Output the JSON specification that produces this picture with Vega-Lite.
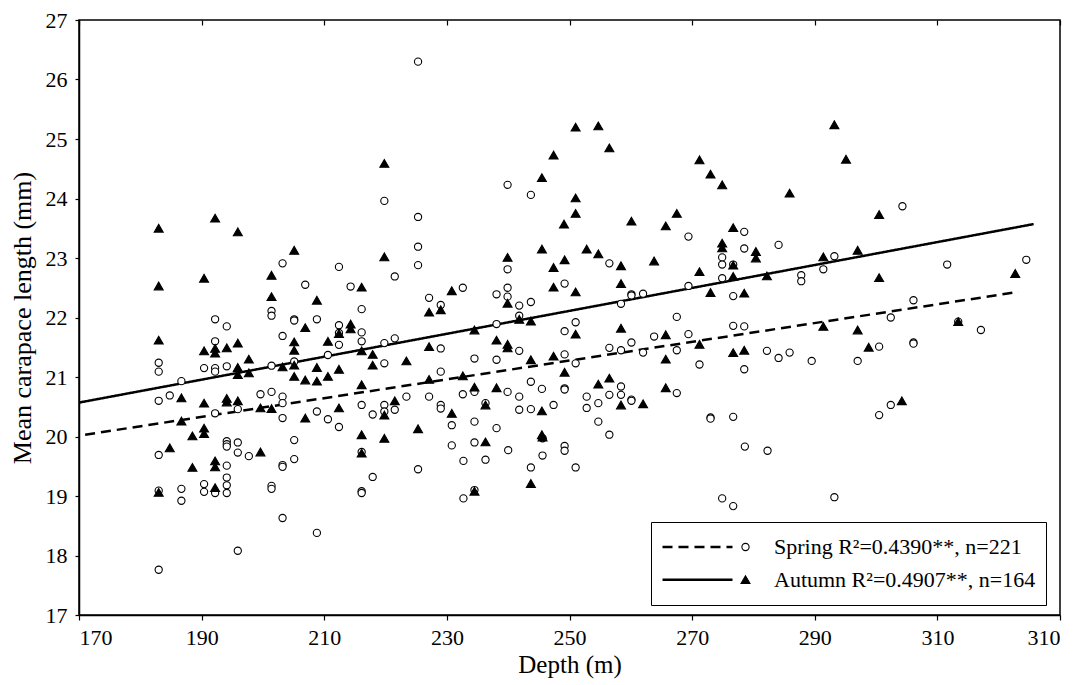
{
  "$schema": "https://vega.github.io/schema/vega-lite/v6.json",
  "width": 981,
  "height": 595,
  "autosize": {"type": "none"},
  "padding": {"left": 79, "top": 20, "right": 15, "bottom": 70},
  "background": "white",
  "config": {
    "font": "Liberation Serif",
    "view": {"stroke": "black", "strokeWidth": 1.5},
    "axis": {
      "grid": false,
      "domainColor": "black",
      "domainWidth": 1.5,
      "tickColor": "black",
      "tickWidth": 1.2,
      "tickSize": 5,
      "labelFont": "Liberation Serif",
      "labelFontSize": 22,
      "labelColor": "black",
      "titleFont": "Liberation Serif",
      "titleFontSize": 25,
      "titleFontWeight": "normal",
      "titleColor": "black"
    },
    "legend": {
      "labelFont": "Liberation Serif",
      "labelFontSize": 22,
      "labelColor": "black",
      "labelLimit": 0
    }
  },
  "datasets": {
    "samples": [
      {"season": "Spring", "depth": 225.3, "length": 26.30},
      {"season": "Spring", "depth": 219.8, "length": 23.96},
      {"season": "Spring", "depth": 225.3, "length": 23.69},
      {"season": "Spring", "depth": 239.9, "length": 24.23},
      {"season": "Spring", "depth": 243.7, "length": 24.06},
      {"season": "Spring", "depth": 304.3, "length": 23.87},
      {"season": "Spring", "depth": 278.5, "length": 23.44},
      {"season": "Spring", "depth": 203.2, "length": 22.91},
      {"season": "Spring", "depth": 212.4, "length": 22.85},
      {"season": "Spring", "depth": 221.5, "length": 22.69},
      {"season": "Spring", "depth": 206.9, "length": 22.55},
      {"season": "Spring", "depth": 214.3, "length": 22.52},
      {"season": "Spring", "depth": 225.3, "length": 23.19},
      {"season": "Spring", "depth": 225.3, "length": 22.88},
      {"season": "Spring", "depth": 216.1, "length": 22.14},
      {"season": "Spring", "depth": 201.4, "length": 22.11},
      {"season": "Spring", "depth": 201.4, "length": 22.03},
      {"season": "Spring", "depth": 205.1, "length": 21.97},
      {"season": "Spring", "depth": 205.1, "length": 21.95},
      {"season": "Spring", "depth": 208.8, "length": 21.97},
      {"season": "Spring", "depth": 192.2, "length": 21.97},
      {"season": "Spring", "depth": 194.1, "length": 21.85},
      {"season": "Spring", "depth": 212.4, "length": 21.87},
      {"season": "Spring", "depth": 212.4, "length": 21.74},
      {"season": "Spring", "depth": 203.2, "length": 21.69},
      {"season": "Spring", "depth": 216.1, "length": 21.75},
      {"season": "Spring", "depth": 216.1, "length": 21.60},
      {"season": "Spring", "depth": 219.8, "length": 21.57},
      {"season": "Spring", "depth": 221.5, "length": 21.65},
      {"season": "Spring", "depth": 192.2, "length": 21.60},
      {"season": "Spring", "depth": 212.4, "length": 21.54},
      {"season": "Spring", "depth": 210.6, "length": 21.37},
      {"season": "Spring", "depth": 183.0, "length": 21.24},
      {"season": "Spring", "depth": 183.0, "length": 21.09},
      {"season": "Spring", "depth": 190.4, "length": 21.15},
      {"season": "Spring", "depth": 192.2, "length": 21.15},
      {"season": "Spring", "depth": 192.2, "length": 21.09},
      {"season": "Spring", "depth": 194.1, "length": 21.18},
      {"season": "Spring", "depth": 201.4, "length": 21.19},
      {"season": "Spring", "depth": 205.1, "length": 21.26},
      {"season": "Spring", "depth": 219.8, "length": 21.23},
      {"season": "Spring", "depth": 186.7, "length": 20.93},
      {"season": "Spring", "depth": 183.0, "length": 20.60},
      {"season": "Spring", "depth": 184.8, "length": 20.69},
      {"season": "Spring", "depth": 199.6, "length": 20.71},
      {"season": "Spring", "depth": 201.4, "length": 20.75},
      {"season": "Spring", "depth": 203.2, "length": 20.67},
      {"season": "Spring", "depth": 203.2, "length": 20.56},
      {"season": "Spring", "depth": 216.1, "length": 20.53},
      {"season": "Spring", "depth": 219.8, "length": 20.53},
      {"season": "Spring", "depth": 219.8, "length": 20.42},
      {"season": "Spring", "depth": 223.4, "length": 20.67},
      {"season": "Spring", "depth": 221.5, "length": 20.45},
      {"season": "Spring", "depth": 217.9, "length": 20.37},
      {"season": "Spring", "depth": 192.2, "length": 20.39},
      {"season": "Spring", "depth": 195.9, "length": 20.46},
      {"season": "Spring", "depth": 203.2, "length": 20.31},
      {"season": "Spring", "depth": 208.8, "length": 20.42},
      {"season": "Spring", "depth": 210.6, "length": 20.29},
      {"season": "Spring", "depth": 212.4, "length": 20.16},
      {"season": "Spring", "depth": 194.1, "length": 19.92},
      {"season": "Spring", "depth": 194.1, "length": 19.87},
      {"season": "Spring", "depth": 194.1, "length": 19.83},
      {"season": "Spring", "depth": 195.9, "length": 19.90},
      {"season": "Spring", "depth": 195.9, "length": 19.73},
      {"season": "Spring", "depth": 197.7, "length": 19.67},
      {"season": "Spring", "depth": 205.1, "length": 19.94},
      {"season": "Spring", "depth": 205.1, "length": 19.62},
      {"season": "Spring", "depth": 203.2, "length": 19.52},
      {"season": "Spring", "depth": 203.2, "length": 19.49},
      {"season": "Spring", "depth": 183.0, "length": 19.69},
      {"season": "Spring", "depth": 194.1, "length": 19.51},
      {"season": "Spring", "depth": 194.1, "length": 19.31},
      {"season": "Spring", "depth": 194.1, "length": 19.18},
      {"season": "Spring", "depth": 194.1, "length": 19.05},
      {"season": "Spring", "depth": 190.4, "length": 19.20},
      {"season": "Spring", "depth": 190.4, "length": 19.07},
      {"season": "Spring", "depth": 192.2, "length": 19.05},
      {"season": "Spring", "depth": 186.7, "length": 19.12},
      {"season": "Spring", "depth": 186.7, "length": 18.92},
      {"season": "Spring", "depth": 183.0, "length": 19.09},
      {"season": "Spring", "depth": 201.4, "length": 19.17},
      {"season": "Spring", "depth": 201.4, "length": 19.12},
      {"season": "Spring", "depth": 216.1, "length": 19.74},
      {"season": "Spring", "depth": 216.1, "length": 19.08},
      {"season": "Spring", "depth": 216.1, "length": 19.05},
      {"season": "Spring", "depth": 217.9, "length": 19.32},
      {"season": "Spring", "depth": 225.3, "length": 19.45},
      {"season": "Spring", "depth": 203.2, "length": 18.63},
      {"season": "Spring", "depth": 208.8, "length": 18.38},
      {"season": "Spring", "depth": 195.9, "length": 18.08},
      {"season": "Spring", "depth": 183.0, "length": 17.76},
      {"season": "Spring", "depth": 269.4, "length": 23.36},
      {"season": "Spring", "depth": 256.5, "length": 22.91},
      {"season": "Spring", "depth": 274.9, "length": 23.01},
      {"season": "Spring", "depth": 274.9, "length": 22.89},
      {"season": "Spring", "depth": 276.7, "length": 22.89},
      {"season": "Spring", "depth": 239.9, "length": 22.81},
      {"season": "Spring", "depth": 232.6, "length": 22.50},
      {"season": "Spring", "depth": 239.9, "length": 22.50},
      {"season": "Spring", "depth": 239.9, "length": 22.35},
      {"season": "Spring", "depth": 238.1, "length": 22.39},
      {"season": "Spring", "depth": 227.1, "length": 22.33},
      {"season": "Spring", "depth": 229.0, "length": 22.21},
      {"season": "Spring", "depth": 241.8, "length": 22.20},
      {"season": "Spring", "depth": 243.7, "length": 22.26},
      {"season": "Spring", "depth": 249.2, "length": 22.57},
      {"season": "Spring", "depth": 260.1, "length": 22.39},
      {"season": "Spring", "depth": 260.1, "length": 22.37},
      {"season": "Spring", "depth": 262.0, "length": 22.40},
      {"season": "Spring", "depth": 269.4, "length": 22.53},
      {"season": "Spring", "depth": 274.9, "length": 22.66},
      {"season": "Spring", "depth": 276.7, "length": 22.36},
      {"season": "Spring", "depth": 258.4, "length": 22.23},
      {"season": "Spring", "depth": 241.8, "length": 22.03},
      {"season": "Spring", "depth": 251.0, "length": 21.92},
      {"season": "Spring", "depth": 238.1, "length": 21.89},
      {"season": "Spring", "depth": 249.2, "length": 21.77},
      {"season": "Spring", "depth": 267.5, "length": 22.01},
      {"season": "Spring", "depth": 263.8, "length": 21.68},
      {"season": "Spring", "depth": 269.4, "length": 21.72},
      {"season": "Spring", "depth": 276.7, "length": 21.86},
      {"season": "Spring", "depth": 260.1, "length": 21.58},
      {"season": "Spring", "depth": 256.5, "length": 21.49},
      {"season": "Spring", "depth": 258.4, "length": 21.45},
      {"season": "Spring", "depth": 262.0, "length": 21.41},
      {"season": "Spring", "depth": 267.5, "length": 21.45},
      {"season": "Spring", "depth": 271.2, "length": 21.21},
      {"season": "Spring", "depth": 229.0, "length": 21.48},
      {"season": "Spring", "depth": 241.8, "length": 21.44},
      {"season": "Spring", "depth": 249.2, "length": 21.38},
      {"season": "Spring", "depth": 251.0, "length": 21.23},
      {"season": "Spring", "depth": 234.5, "length": 21.31},
      {"season": "Spring", "depth": 238.1, "length": 21.29},
      {"season": "Spring", "depth": 229.0, "length": 21.09},
      {"season": "Spring", "depth": 243.7, "length": 20.92},
      {"season": "Spring", "depth": 245.5, "length": 20.80},
      {"season": "Spring", "depth": 249.2, "length": 20.81},
      {"season": "Spring", "depth": 249.2, "length": 20.79},
      {"season": "Spring", "depth": 234.5, "length": 20.75},
      {"season": "Spring", "depth": 239.9, "length": 20.75},
      {"season": "Spring", "depth": 227.1, "length": 20.67},
      {"season": "Spring", "depth": 232.6, "length": 20.71},
      {"season": "Spring", "depth": 241.8, "length": 20.67},
      {"season": "Spring", "depth": 229.0, "length": 20.53},
      {"season": "Spring", "depth": 229.0, "length": 20.47},
      {"season": "Spring", "depth": 236.3, "length": 20.56},
      {"season": "Spring", "depth": 241.8, "length": 20.45},
      {"season": "Spring", "depth": 243.7, "length": 20.46},
      {"season": "Spring", "depth": 247.4, "length": 20.53},
      {"season": "Spring", "depth": 252.8, "length": 20.67},
      {"season": "Spring", "depth": 252.8, "length": 20.48},
      {"season": "Spring", "depth": 254.7, "length": 20.56},
      {"season": "Spring", "depth": 256.5, "length": 20.70},
      {"season": "Spring", "depth": 258.4, "length": 20.84},
      {"season": "Spring", "depth": 258.4, "length": 20.70},
      {"season": "Spring", "depth": 260.1, "length": 20.62},
      {"season": "Spring", "depth": 260.1, "length": 20.60},
      {"season": "Spring", "depth": 267.5, "length": 20.73},
      {"season": "Spring", "depth": 230.8, "length": 20.19},
      {"season": "Spring", "depth": 234.5, "length": 20.25},
      {"season": "Spring", "depth": 238.1, "length": 20.14},
      {"season": "Spring", "depth": 254.7, "length": 20.25},
      {"season": "Spring", "depth": 256.5, "length": 20.03},
      {"season": "Spring", "depth": 273.0, "length": 20.32},
      {"season": "Spring", "depth": 273.0, "length": 20.30},
      {"season": "Spring", "depth": 276.7, "length": 20.33},
      {"season": "Spring", "depth": 230.8, "length": 19.85},
      {"season": "Spring", "depth": 234.5, "length": 19.90},
      {"season": "Spring", "depth": 232.7, "length": 19.59},
      {"season": "Spring", "depth": 236.3, "length": 19.61},
      {"season": "Spring", "depth": 240.0, "length": 19.77},
      {"season": "Spring", "depth": 245.6, "length": 19.97},
      {"season": "Spring", "depth": 245.6, "length": 19.68},
      {"season": "Spring", "depth": 243.7, "length": 19.48},
      {"season": "Spring", "depth": 249.2, "length": 19.84},
      {"season": "Spring", "depth": 249.2, "length": 19.76},
      {"season": "Spring", "depth": 251.0, "length": 19.48},
      {"season": "Spring", "depth": 234.5, "length": 19.10},
      {"season": "Spring", "depth": 232.7, "length": 18.96},
      {"season": "Spring", "depth": 274.9, "length": 18.96},
      {"season": "Spring", "depth": 276.7, "length": 18.83},
      {"season": "Spring", "depth": 278.5, "length": 23.16},
      {"season": "Spring", "depth": 284.1, "length": 23.22},
      {"season": "Spring", "depth": 293.2, "length": 23.03},
      {"season": "Spring", "depth": 287.8, "length": 22.71},
      {"season": "Spring", "depth": 287.8, "length": 22.61},
      {"season": "Spring", "depth": 291.4, "length": 22.81},
      {"season": "Spring", "depth": 311.6, "length": 22.89},
      {"season": "Spring", "depth": 324.5, "length": 22.97},
      {"season": "Spring", "depth": 306.1, "length": 22.29},
      {"season": "Spring", "depth": 302.4, "length": 22.00},
      {"season": "Spring", "depth": 278.5, "length": 21.85},
      {"season": "Spring", "depth": 313.4, "length": 21.93},
      {"season": "Spring", "depth": 317.1, "length": 21.79},
      {"season": "Spring", "depth": 306.1, "length": 21.58},
      {"season": "Spring", "depth": 306.1, "length": 21.56},
      {"season": "Spring", "depth": 300.5, "length": 21.51},
      {"season": "Spring", "depth": 282.2, "length": 21.44},
      {"season": "Spring", "depth": 284.1, "length": 21.32},
      {"season": "Spring", "depth": 285.9, "length": 21.41},
      {"season": "Spring", "depth": 289.5, "length": 21.27},
      {"season": "Spring", "depth": 297.0, "length": 21.27},
      {"season": "Spring", "depth": 278.5, "length": 21.13},
      {"season": "Spring", "depth": 302.4, "length": 20.53},
      {"season": "Spring", "depth": 300.5, "length": 20.36},
      {"season": "Spring", "depth": 278.6, "length": 19.83},
      {"season": "Spring", "depth": 282.3, "length": 19.76},
      {"season": "Spring", "depth": 293.2, "length": 18.98},
      {"season": "Autumn", "depth": 183.0, "length": 23.50},
      {"season": "Autumn", "depth": 195.9, "length": 23.44},
      {"season": "Autumn", "depth": 192.2, "length": 23.67},
      {"season": "Autumn", "depth": 219.8, "length": 24.59},
      {"season": "Autumn", "depth": 251.0, "length": 25.20},
      {"season": "Autumn", "depth": 254.7, "length": 25.22},
      {"season": "Autumn", "depth": 256.5, "length": 24.85},
      {"season": "Autumn", "depth": 247.4, "length": 24.73},
      {"season": "Autumn", "depth": 271.2, "length": 24.65},
      {"season": "Autumn", "depth": 273.0, "length": 24.41},
      {"season": "Autumn", "depth": 274.9, "length": 24.23},
      {"season": "Autumn", "depth": 245.5, "length": 24.35},
      {"season": "Autumn", "depth": 251.0, "length": 24.01},
      {"season": "Autumn", "depth": 251.0, "length": 23.75},
      {"season": "Autumn", "depth": 249.1, "length": 23.57},
      {"season": "Autumn", "depth": 260.1, "length": 23.62},
      {"season": "Autumn", "depth": 267.5, "length": 23.75},
      {"season": "Autumn", "depth": 265.7, "length": 23.54},
      {"season": "Autumn", "depth": 276.7, "length": 23.51},
      {"season": "Autumn", "depth": 293.2, "length": 25.24},
      {"season": "Autumn", "depth": 295.1, "length": 24.66},
      {"season": "Autumn", "depth": 285.9, "length": 24.09},
      {"season": "Autumn", "depth": 300.5, "length": 23.73},
      {"season": "Autumn", "depth": 205.1, "length": 23.13},
      {"season": "Autumn", "depth": 219.8, "length": 23.02},
      {"season": "Autumn", "depth": 183.0, "length": 22.53},
      {"season": "Autumn", "depth": 190.4, "length": 22.66},
      {"season": "Autumn", "depth": 201.4, "length": 22.71},
      {"season": "Autumn", "depth": 216.1, "length": 22.51},
      {"season": "Autumn", "depth": 201.4, "length": 22.35},
      {"season": "Autumn", "depth": 208.8, "length": 22.29},
      {"season": "Autumn", "depth": 206.9, "length": 21.83},
      {"season": "Autumn", "depth": 214.3, "length": 21.89},
      {"season": "Autumn", "depth": 214.3, "length": 21.81},
      {"season": "Autumn", "depth": 212.4, "length": 21.73},
      {"season": "Autumn", "depth": 183.0, "length": 21.62},
      {"season": "Autumn", "depth": 190.4, "length": 21.44},
      {"season": "Autumn", "depth": 192.2, "length": 21.48},
      {"season": "Autumn", "depth": 192.2, "length": 21.40},
      {"season": "Autumn", "depth": 194.1, "length": 21.49},
      {"season": "Autumn", "depth": 195.9, "length": 21.57},
      {"season": "Autumn", "depth": 197.7, "length": 21.30},
      {"season": "Autumn", "depth": 195.9, "length": 21.16},
      {"season": "Autumn", "depth": 195.9, "length": 21.04},
      {"season": "Autumn", "depth": 197.7, "length": 21.07},
      {"season": "Autumn", "depth": 205.1, "length": 21.59},
      {"season": "Autumn", "depth": 205.1, "length": 21.45},
      {"season": "Autumn", "depth": 210.6, "length": 21.60},
      {"season": "Autumn", "depth": 205.1, "length": 21.20},
      {"season": "Autumn", "depth": 203.2, "length": 21.17},
      {"season": "Autumn", "depth": 205.1, "length": 21.01},
      {"season": "Autumn", "depth": 206.9, "length": 20.95},
      {"season": "Autumn", "depth": 208.8, "length": 21.16},
      {"season": "Autumn", "depth": 208.8, "length": 20.93},
      {"season": "Autumn", "depth": 210.6, "length": 21.01},
      {"season": "Autumn", "depth": 212.4, "length": 21.13},
      {"season": "Autumn", "depth": 216.1, "length": 21.44},
      {"season": "Autumn", "depth": 217.9, "length": 21.38},
      {"season": "Autumn", "depth": 217.9, "length": 21.20},
      {"season": "Autumn", "depth": 223.4, "length": 21.27},
      {"season": "Autumn", "depth": 216.1, "length": 20.87},
      {"season": "Autumn", "depth": 186.7, "length": 20.65},
      {"season": "Autumn", "depth": 190.4, "length": 20.56},
      {"season": "Autumn", "depth": 194.1, "length": 20.64},
      {"season": "Autumn", "depth": 194.1, "length": 20.58},
      {"season": "Autumn", "depth": 195.9, "length": 20.60},
      {"season": "Autumn", "depth": 199.6, "length": 20.48},
      {"season": "Autumn", "depth": 201.4, "length": 20.47},
      {"season": "Autumn", "depth": 212.4, "length": 20.48},
      {"season": "Autumn", "depth": 221.5, "length": 20.60},
      {"season": "Autumn", "depth": 219.8, "length": 20.36},
      {"season": "Autumn", "depth": 186.7, "length": 20.26},
      {"season": "Autumn", "depth": 206.9, "length": 20.31},
      {"season": "Autumn", "depth": 188.5, "length": 20.01},
      {"season": "Autumn", "depth": 190.4, "length": 20.14},
      {"season": "Autumn", "depth": 190.4, "length": 20.05},
      {"season": "Autumn", "depth": 216.1, "length": 20.03},
      {"season": "Autumn", "depth": 219.8, "length": 19.97},
      {"season": "Autumn", "depth": 184.8, "length": 19.81},
      {"season": "Autumn", "depth": 188.5, "length": 19.48},
      {"season": "Autumn", "depth": 192.2, "length": 19.59},
      {"season": "Autumn", "depth": 192.2, "length": 19.49},
      {"season": "Autumn", "depth": 199.6, "length": 19.74},
      {"season": "Autumn", "depth": 192.2, "length": 19.14},
      {"season": "Autumn", "depth": 183.0, "length": 19.06},
      {"season": "Autumn", "depth": 216.1, "length": 19.72},
      {"season": "Autumn", "depth": 245.5, "length": 23.15},
      {"season": "Autumn", "depth": 252.8, "length": 23.15},
      {"season": "Autumn", "depth": 254.7, "length": 23.07},
      {"season": "Autumn", "depth": 239.9, "length": 23.01},
      {"season": "Autumn", "depth": 249.2, "length": 22.97},
      {"season": "Autumn", "depth": 247.4, "length": 22.84},
      {"season": "Autumn", "depth": 258.4, "length": 22.87},
      {"season": "Autumn", "depth": 263.8, "length": 22.95},
      {"season": "Autumn", "depth": 274.9, "length": 23.25},
      {"season": "Autumn", "depth": 274.9, "length": 23.17},
      {"season": "Autumn", "depth": 276.7, "length": 22.88},
      {"season": "Autumn", "depth": 276.7, "length": 22.69},
      {"season": "Autumn", "depth": 271.2, "length": 22.77},
      {"season": "Autumn", "depth": 247.4, "length": 22.51},
      {"season": "Autumn", "depth": 251.0, "length": 22.43},
      {"season": "Autumn", "depth": 258.4, "length": 22.57},
      {"season": "Autumn", "depth": 273.0, "length": 22.42},
      {"season": "Autumn", "depth": 230.8, "length": 22.45},
      {"season": "Autumn", "depth": 227.1, "length": 22.09},
      {"season": "Autumn", "depth": 229.0, "length": 22.13},
      {"season": "Autumn", "depth": 239.9, "length": 22.24},
      {"season": "Autumn", "depth": 241.8, "length": 21.97},
      {"season": "Autumn", "depth": 243.7, "length": 21.94},
      {"season": "Autumn", "depth": 234.5, "length": 21.79},
      {"season": "Autumn", "depth": 251.0, "length": 21.72},
      {"season": "Autumn", "depth": 258.4, "length": 21.82},
      {"season": "Autumn", "depth": 238.1, "length": 21.62},
      {"season": "Autumn", "depth": 239.9, "length": 21.55},
      {"season": "Autumn", "depth": 239.9, "length": 21.49},
      {"season": "Autumn", "depth": 227.1, "length": 21.51},
      {"season": "Autumn", "depth": 265.7, "length": 21.71},
      {"season": "Autumn", "depth": 265.7, "length": 21.30},
      {"season": "Autumn", "depth": 271.2, "length": 21.55},
      {"season": "Autumn", "depth": 276.7, "length": 21.41},
      {"season": "Autumn", "depth": 243.7, "length": 21.29},
      {"season": "Autumn", "depth": 247.4, "length": 21.35},
      {"season": "Autumn", "depth": 249.2, "length": 21.08},
      {"season": "Autumn", "depth": 227.1, "length": 20.96},
      {"season": "Autumn", "depth": 232.6, "length": 21.02},
      {"season": "Autumn", "depth": 234.5, "length": 20.83},
      {"season": "Autumn", "depth": 238.1, "length": 20.82},
      {"season": "Autumn", "depth": 254.7, "length": 20.88},
      {"season": "Autumn", "depth": 256.5, "length": 20.98},
      {"season": "Autumn", "depth": 265.7, "length": 20.82},
      {"season": "Autumn", "depth": 236.3, "length": 20.53},
      {"season": "Autumn", "depth": 230.8, "length": 20.39},
      {"season": "Autumn", "depth": 245.5, "length": 20.43},
      {"season": "Autumn", "depth": 258.4, "length": 20.53},
      {"season": "Autumn", "depth": 262.0, "length": 20.55},
      {"season": "Autumn", "depth": 225.3, "length": 20.13},
      {"season": "Autumn", "depth": 245.5, "length": 20.03},
      {"season": "Autumn", "depth": 236.3, "length": 19.91},
      {"season": "Autumn", "depth": 245.6, "length": 19.99},
      {"season": "Autumn", "depth": 243.7, "length": 19.21},
      {"season": "Autumn", "depth": 234.5, "length": 19.08},
      {"season": "Autumn", "depth": 280.4, "length": 23.11},
      {"season": "Autumn", "depth": 280.4, "length": 23.00},
      {"season": "Autumn", "depth": 291.4, "length": 23.02},
      {"season": "Autumn", "depth": 297.0, "length": 23.13},
      {"season": "Autumn", "depth": 282.2, "length": 22.70},
      {"season": "Autumn", "depth": 300.5, "length": 22.67},
      {"season": "Autumn", "depth": 322.7, "length": 22.74},
      {"season": "Autumn", "depth": 278.5, "length": 22.41},
      {"season": "Autumn", "depth": 291.4, "length": 21.85},
      {"season": "Autumn", "depth": 297.0, "length": 21.79},
      {"season": "Autumn", "depth": 313.4, "length": 21.93},
      {"season": "Autumn", "depth": 298.8, "length": 21.50},
      {"season": "Autumn", "depth": 278.5, "length": 21.45},
      {"season": "Autumn", "depth": 304.2, "length": 20.60}
    ],
    "fits": [
      {"fit": "Spring R²=0.4390**, n=221", "depth": 171.0, "length": 20.03},
      {"fit": "Spring R²=0.4390**, n=221", "depth": 323.2, "length": 22.43},
      {"fit": "Autumn R²=0.4907**, n=164", "depth": 170.0, "length": 20.57},
      {"fit": "Autumn R²=0.4907**, n=164", "depth": 325.7, "length": 23.57}
    ]
  },
  "resolve": {"axis": {"x": "independent"}},
  "layer": [
    {
      "data": {"name": "fits"},
      "mark": {"type": "line", "color": "black", "strokeWidth": 2.5},
      "encoding": {
        "x": {
          "field": "depth",
          "type": "quantitative",
          "scale": {"domain": [170, 330], "nice": false, "zero": false},
          "axis": {
            "title": "Depth (m)",
            "values": [170, 190, 210, 230, 250, 270, 290, 310, 330],
            "labelExpr": "datum.value == 330 ? '310' : datum.label",
            "labelPadding": 7,
            "titlePadding": 4
          }
        },
        "y": {
          "field": "length",
          "type": "quantitative",
          "scale": {"domain": [17, 27], "nice": false, "zero": false},
          "axis": {
            "title": "Mean carapace length (mm)",
            "titleFontSize": 26,
            "values": [17, 18, 19, 20, 21, 22, 23, 24, 25, 26, 27],
            "format": "d",
            "tickSize": 4,
            "labelPadding": 8,
            "titlePadding": 10
          }
        },
        "strokeDash": {
          "field": "fit",
          "type": "nominal",
          "scale": {
            "domain": ["Spring R²=0.4390**, n=221", "Autumn R²=0.4907**, n=164"],
            "range": [[10, 6], [1, 0]]
          },
          "legend": {
            "title": null,
            "orient": "none",
            "legendX": 572,
            "legendY": 502,
            "symbolType": "stroke",
            "symbolSize": 4900,
            "symbolStrokeWidth": 2.5,
            "symbolStrokeColor": "black",
            "clipHeight": 30,
            "rowPadding": 2.7,
            "labelOffset": 40,
            "padding": 10,
            "strokeColor": "black"
          }
        }
      }
    },
    {
      "data": {"name": "samples"},
      "mark": {"type": "point", "filled": true, "strokeWidth": 1.1, "opacity": 1},
      "encoding": {
        "x": {
          "field": "depth",
          "type": "quantitative",
          "axis": {
            "title": null,
            "labels": false,
            "domain": false,
            "tickSize": -5,
            "values": [170, 190, 210, 230, 250, 270, 290, 310, 330]
          }
        },
        "y": {"field": "length", "type": "quantitative"},
        "shape": {
          "field": "season",
          "type": "nominal",
          "scale": {"domain": ["Spring", "Autumn"], "range": ["circle", "triangle-up"]},
          "legend": {
            "title": null, "orient": "none", "legendX": 645.5, "legendY": 502,
            "labelExpr": "''", "clipHeight": 30, "rowPadding": 2.7, "padding": 10,
            "symbolStrokeWidth": 1.1
          }
        },
        "fill": {
          "field": "season",
          "type": "nominal",
          "scale": {"domain": ["Spring", "Autumn"], "range": ["white", "black"]},
          "legend": {
            "title": null, "orient": "none", "legendX": 645.5, "legendY": 502,
            "labelExpr": "''", "clipHeight": 30, "rowPadding": 2.7, "padding": 10,
            "symbolStrokeWidth": 1.1
          }
        },
        "stroke": {
          "field": "season",
          "type": "nominal",
          "scale": {"domain": ["Spring", "Autumn"], "range": ["black", "black"]},
          "legend": {
            "title": null, "orient": "none", "legendX": 645.5, "legendY": 502,
            "labelExpr": "''", "clipHeight": 30, "rowPadding": 2.7, "padding": 10,
            "symbolStrokeWidth": 1.1
          }
        },
        "size": {
          "field": "season",
          "type": "nominal",
          "scale": {"domain": ["Spring", "Autumn"], "range": [52, 80]},
          "legend": {
            "title": null, "orient": "none", "legendX": 645.5, "legendY": 502,
            "labelExpr": "''", "clipHeight": 30, "rowPadding": 2.7, "padding": 10,
            "symbolStrokeWidth": 1.1
          }
        }
      }
    }
  ]
}
